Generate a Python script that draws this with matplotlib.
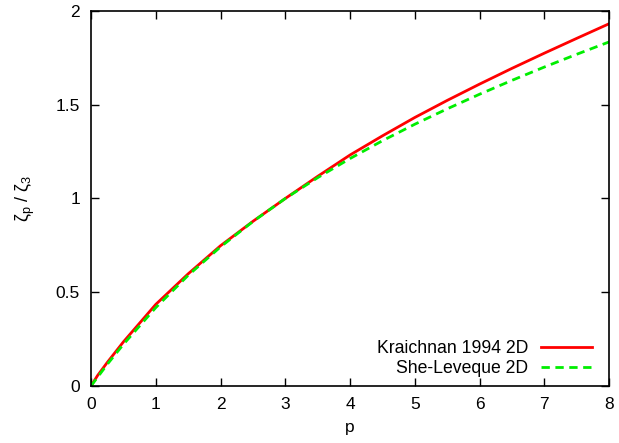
import matplotlib
matplotlib.use('Agg')
import matplotlib.pyplot as plt

plt.rcParams['font.family'] = ['Liberation Sans', 'DejaVu Sans']
plt.rcParams['mathtext.fontset'] = 'custom'
plt.rcParams['mathtext.rm'] = 'Liberation Sans'
plt.rcParams['mathtext.it'] = 'Liberation Sans'

# values
p = [0, 0.1, 0.25, 0.5, 1, 1.5, 2, 2.5, 3, 3.5, 4, 4.5, 5, 5.5, 6, 6.5, 7, 7.5, 8]
kraichnan = [0, 0.055, 0.125, 0.235, 0.435, 0.598, 0.748, 0.878, 1.0, 1.118, 1.232,
             1.334, 1.432, 1.523, 1.61, 1.694, 1.775, 1.854, 1.932]
she_leveque = [0, 0.046, 0.115, 0.222, 0.418, 0.590, 0.742, 0.877, 1.0, 1.111, 1.213,
               1.308, 1.396, 1.478, 1.556, 1.630, 1.701, 1.769, 1.835]

xticks = [0, 1, 2, 3, 4, 5, 6, 7, 8]
yticks = [0, 0.5, 1, 1.5, 2]
ylabels = ['0', '0.5', '1', '1.5', '2']

fig = plt.figure(figsize=(6.19, 4.43), dpi=100)
ax = fig.add_axes([0.147, 0.1287, 0.837, 0.8465])

ax.plot(p, kraichnan, color='#ff0000', lw=2, label='Kraichnan 1994 2D')
ax.plot(p, she_leveque, color='#00ee00', lw=2, dashes=(3, 2), label='She-Leveque 2D')

ax.set_xlim(0, 8)
ax.set_ylim(0, 2)
ax.set_xticks(xticks)
ax.set_yticks(yticks)
ax.set_yticklabels(ylabels)
ax.tick_params(direction='in', length=6, width=1, top=True, right=True,
               labelsize=12.5, pad=8)
for s in ax.spines.values():
    s.set_linewidth(1.2)

ax.set_xlabel('p', fontsize=12.5, labelpad=6)
ax.set_ylabel(r'$\mathregular{\zeta_p\ /\ \zeta_3}$', fontsize=13, labelpad=13)

ax.legend(loc='lower right', bbox_to_anchor=(0.98, 0.005), frameon=False,
          markerfirst=False, fontsize=12.7, handlelength=2.9, handletextpad=0.7,
          labelspacing=0.15, borderaxespad=0)

fig.savefig('out.png', dpi=100)
